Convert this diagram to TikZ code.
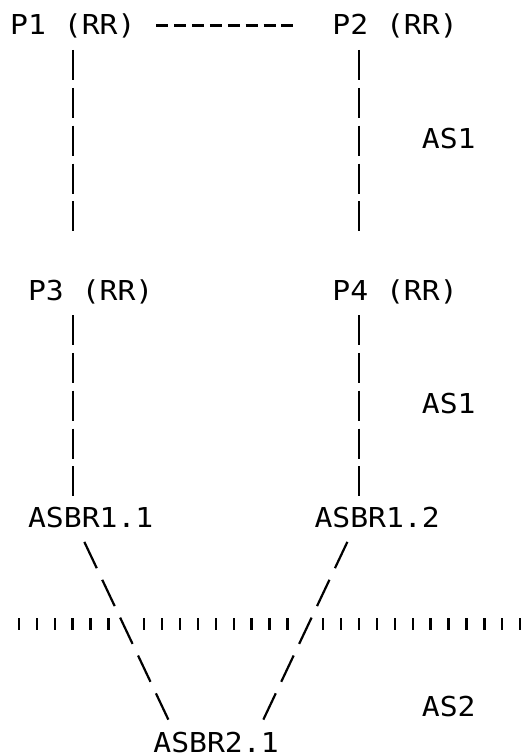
\documentclass[tikz,border=0pt]{standalone}
\usepackage{fontspec}
\setmonofont[FakeStretch=1.085]{DejaVu Sans Mono}
\usepackage{tikz}
\usetikzlibrary{calc}

\begin{document}
\begin{tikzpicture}[x=17.9pt, y=37.86pt,
    txt/.style={anchor=base west, inner sep=0pt, font=\ttfamily\fontsize{27.4pt}{37.86pt}\selectfont},
    vlink/.style={line width=2.2pt, dash pattern=on 30pt off 7.86pt},
    hlink/.style={line width=2.2pt, dash pattern=on 12pt off 5.9pt},
    dlink/.style={line width=2.2pt, dash pattern=on 29.07pt off 12.81pt},
    bordertick/.style={line width=2.4pt}]

\useasboundingbox (-10pt,35pt) rectangle (516pt,-719pt);

%nodes
\node[txt] (P1) at (0,0) {P1 (RR)};
\node[txt] (P2) at (18,0) {P2 (RR)};
\node[txt] (P3) at (1,-7) {P3 (RR)};
\node[txt] (P4) at (18,-7) {P4 (RR)};
\node[txt] (asbr11) at (1,-13) {ASBR1.1};
\node[txt] (asbr12) at (17,-13) {ASBR1.2};
\node[txt, text depth=0pt] (asbr21) at (8,-18.94) {ASBR2.1};

%AS names
\node[txt] (as1up) at (23,-3) {AS1};
\node[txt] (as1down) at (23,-10) {AS1};
\node[txt] (as2) at (23,-18) {AS2};

%links
\draw[hlink] ($(P1.base west)+(8.165,.251)$) -- ($(P2.base west)+(-2.165,.251)$);
\draw[vlink] ($(P1.base west)+(3.5,-.396)$) -- ($(P3.base west)+(2.5,1.811)$);
\draw[vlink] ($(P2.base west)+(1.5,-.396)$) -- ($(P4.base west)+(1.5,1.811)$);
\draw[vlink] ($(P3.base west)+(2.5,-.396)$) -- ($(asbr11.base west)+(2.5,.811)$);
\draw[vlink] ($(P4.base west)+(1.5,-.396)$) -- ($(asbr12.base west)+(2.5,.811)$);
\draw[dlink] ($(asbr11.base west)+(3.153,-.389)$) -- ($(asbr21.base west)+(.847,.857)$);
\draw[dlink] ($(asbr12.base west)+(1.847,-.389)$) -- ($(asbr21.base west)+(6.153,.857)$);

%AS border
\foreach \c in {0,...,28}{
  \ifnum\c=6 \else\ifnum\c=16 \else
    \draw[bordertick] (\c+.5,-15.4) -- (\c+.5,-15.716);
  \fi\fi
}

\end{tikzpicture}
\end{document}
